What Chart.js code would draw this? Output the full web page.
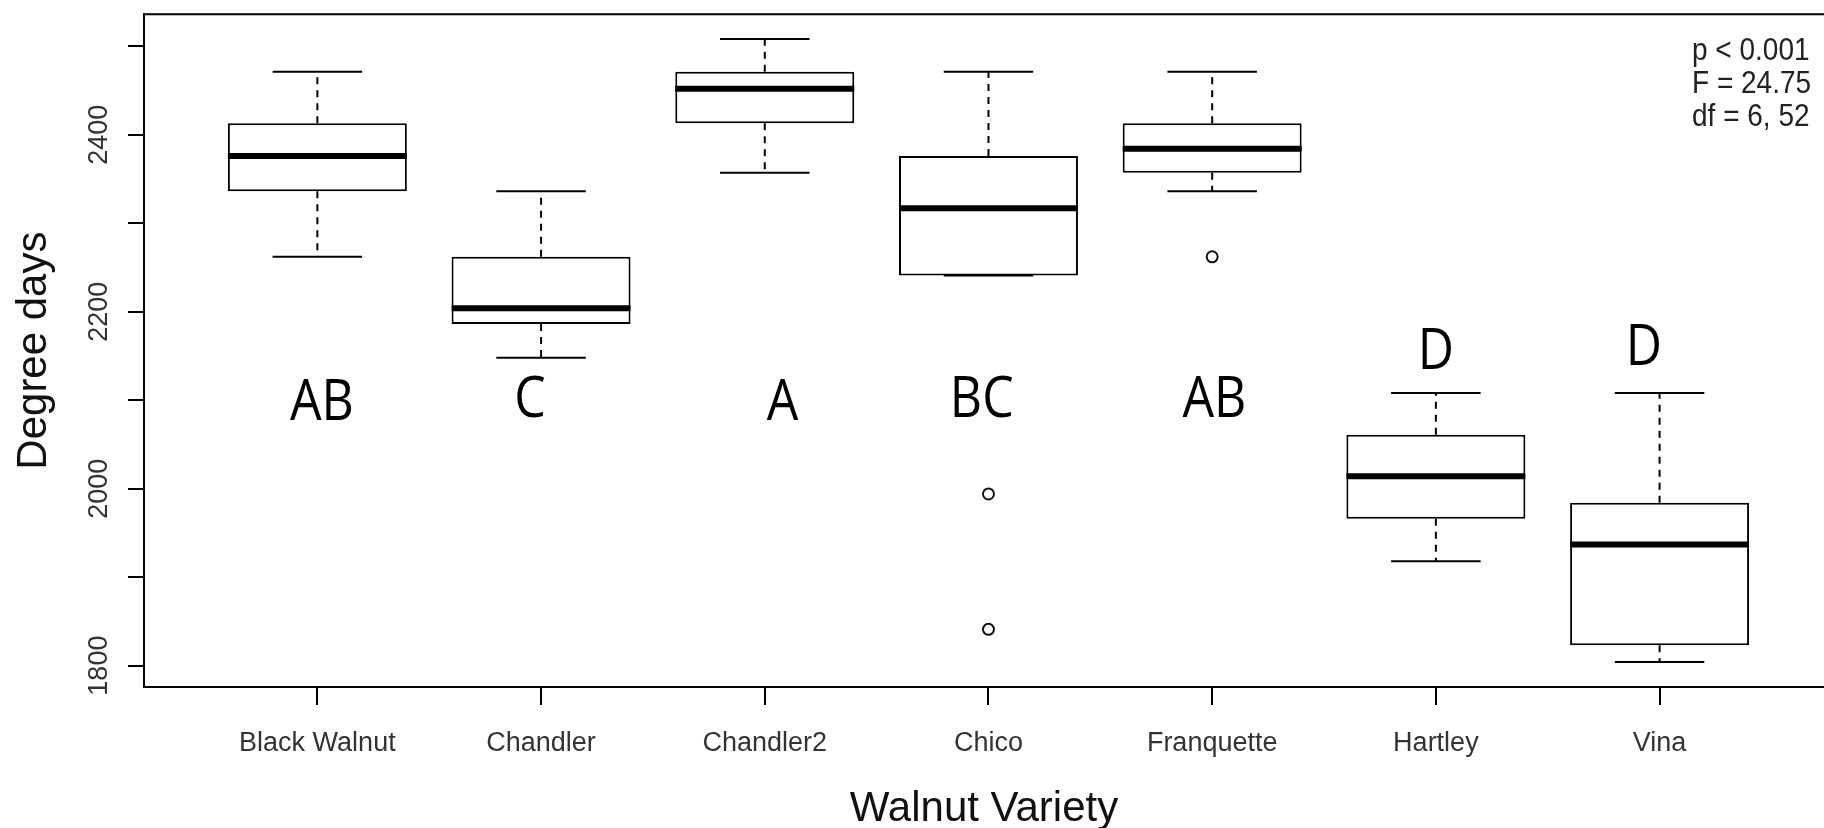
<!DOCTYPE html>
<html lang="en">
<head>
  <meta charset="UTF-8" />
  <title>Degree days by walnut variety</title>
  <script src="https://cdn.jsdelivr.net/npm/chart.js@4"></script>
  <style>
    html, body {
      margin: 0;
      padding: 0;
      background: #fff;
      overflow: hidden;
    }
    #wrap {
      width: 1824px;
      height: 828px;
    }
  </style>
</head>
<body>
  <div id="wrap"><canvas id="boxChart" width="1824" height="828"></canvas></div>

  <script>
    const varieties   = ['Black Walnut', 'Chandler', 'Chandler2', 'Chico', 'Franquette', 'Hartley', 'Vina'];
    const whiskerLow  = [2262, 2148, 2357, 2241, 2336, 1918, 1804];
    const lowerQuart  = [2336, 2186, 2413, 2241, 2357, 1966, 1823];
    const medians     = [2376, 2204, 2452, 2317, 2384, 2014, 1937];
    const upperQuart  = [2413, 2262, 2471, 2376, 2413, 2061, 1984];
    const whiskerHigh = [2471, 2336, 2508, 2471, 2471, 2108, 2108];

    // outliers: which variety (0-based) and value
    const outlierIdx  = [3, 3, 4];
    const outlierVals = [1994, 1841, 2262];

    // group letters from the post-hoc test, placed in data units
    const groupLetters = ['AB', 'C', 'A', 'BC', 'AB', 'D', 'D'];
    const letterX = [1.02, 1.95, 3.08, 3.97, 5.01, 6.0, 6.93];
    const letterY = [2100, 2104, 2100, 2104, 2104, 2158, 2162];

    const statsLines = ['p < 0.001', 'F = 24.75', 'df = 6, 52'];
    const yTicks = [1800, 1900, 2000, 2100, 2200, 2300, 2400, 2500];

    const FONT = '"Liberation Sans", Arial, sans-serif';

    // R style axis limits: data range plus 4%
    const lo = Math.min(...whiskerLow, ...outlierVals);
    const hi = Math.max(...whiskerHigh, ...outlierVals);
    const yMin = lo - 0.04 * (hi - lo);
    const yMax = hi + 0.04 * (hi - lo);
    const xMin = 0.225;
    const xMax = 7.735; // right edge of the plot is cut off in the figure

    const medianPts = [];
    const whiskerPts = [];
    const staplePts = [];
    varieties.forEach((v, i) => {
      const x = i + 1;
      medianPts.push({ x: x - 0.4, y: medians[i] }, { x: x + 0.4, y: medians[i] }, { x: x, y: null });
      whiskerPts.push(
        { x: x, y: upperQuart[i] }, { x: x, y: whiskerHigh[i] }, { x: x, y: null },
        { x: x, y: lowerQuart[i] }, { x: x, y: whiskerLow[i] }, { x: x, y: null }
      );
      staplePts.push(
        { x: x - 0.2, y: whiskerHigh[i] }, { x: x + 0.2, y: whiskerHigh[i] }, { x: x, y: null },
        { x: x - 0.2, y: whiskerLow[i] }, { x: x + 0.2, y: whiskerLow[i] }, { x: x, y: null }
      );
    });

    const annotate = {
      id: 'annotate',
      afterDatasetsDraw(chart) {
        const { ctx, chartArea: a, scales: { x, y } } = chart;
        ctx.save();

        // top of the plot frame
        ctx.strokeStyle = '#000';
        ctx.lineWidth = 2;
        ctx.beginPath();
        ctx.moveTo(a.left, a.top);
        ctx.lineTo(chart.width + 5, a.top);
        ctx.stroke();

        // letters, stretched a bit like the original figure
        ctx.fillStyle = '#000';
        ctx.font = '50px "Open Sans", sans-serif';
        ctx.textAlign = 'center';
        ctx.textBaseline = 'alphabetic';
        groupLetters.forEach((t, i) => {
          ctx.save();
          ctx.translate(x.getPixelForValue(letterX[i]), y.getPixelForValue(letterY[i]));
          ctx.scale(1, 1.13);
          ctx.fillText(t, 0, 50 * 0.714 / 2);
          ctx.restore();
        });

        ctx.fillStyle = '#222';
        ctx.font = '28px ' + FONT;
        ctx.textAlign = 'left';
        statsLines.forEach((t, i) => {
          ctx.save();
          ctx.translate(a.right - 132, a.top + 46 + i * 33);
          ctx.scale(1, 1.12);
          ctx.fillText(t, 0, 0);
          ctx.restore();
        });

        ctx.restore();
      }
    };

    new Chart(document.getElementById('boxChart'), {
      type: 'bar',
      data: {
        datasets: [
          {
            type: 'line',
            data: medianPts,
            borderColor: '#000',
            borderWidth: 6,
            borderCapStyle: 'butt',
            pointRadius: 0
          },
          {
            type: 'bar',
            data: varieties.map((v, i) => ({ x: i + 1, y: [lowerQuart[i], upperQuart[i]] })),
            backgroundColor: '#fff',
            borderColor: '#000',
            borderWidth: 2,
            borderSkipped: false,
            barPercentage: 0.8,
            categoryPercentage: 1,
            grouped: false
          },
          {
            type: 'line',
            data: staplePts,
            borderColor: '#000',
            borderWidth: 2,
            pointRadius: 0
          },
          {
            type: 'line',
            data: whiskerPts,
            borderColor: '#000',
            borderWidth: 2,
            borderDash: [7, 6],
            pointRadius: 0
          },
          {
            type: 'scatter',
            data: outlierIdx.map((k, i) => ({ x: k + 1, y: outlierVals[i] })),
            pointRadius: 5.5,
            pointBorderWidth: 2,
            pointBackgroundColor: 'rgba(0,0,0,0)',
            pointBorderColor: '#111',
            showLine: false
          }
        ]
      },
      options: {
        responsive: false,
        devicePixelRatio: 1,
        animation: false,
        layout: {
          autoPadding: false,
          padding: { top: 13, right: 0, bottom: 0, left: 0 }
        },
        plugins: {
          legend: { display: false },
          tooltip: { enabled: false }
        },
        scales: {
          x: {
            type: 'linear',
            min: xMin,
            max: xMax,
            offset: false,
            afterBuildTicks: (s) => { s.ticks = varieties.map((v, i) => ({ value: i + 1 })); },
            afterFit: (s) => { s.height = 828 - 687; },
            ticks: {
              autoSkip: false,
              minRotation: 0,
              maxRotation: 0,
              padding: 22,
              color: '#333',
              font: { family: FONT, size: 27 },
              callback: (v) => varieties[Math.round(v) - 1] || ''
            },
            grid: { drawOnChartArea: false, drawTicks: true, tickLength: 18, color: '#000', lineWidth: 2, offset: false },
            border: { display: true, color: '#000', width: 2 },
            title: {
              display: true,
              text: 'Walnut Variety',
              color: '#111',
              font: { family: FONT, size: 42, lineHeight: 1 },
              padding: { top: 0, bottom: -2 }
            }
          },
          y: {
            type: 'linear',
            min: yMin,
            max: yMax,
            afterBuildTicks: (s) => { s.ticks = yTicks.map((v) => ({ value: v })); },
            afterFit: (s) => { s.width = 144; },
            ticks: {
              autoSkip: false,
              minRotation: 90,
              maxRotation: 90,
              crossAlign: 'center',
              padding: -2,
              color: '#333',
              font: { family: FONT, size: 27 },
              callback: (v) => (v % 200 === 0 ? String(v) : '')
            },
            grid: { drawOnChartArea: false, drawTicks: true, tickLength: 16, color: '#000', lineWidth: 2 },
            border: { display: true, color: '#000', width: 2 },
            title: {
              display: true,
              text: 'Degree days',
              color: '#111',
              font: { family: FONT, size: 42, lineHeight: 1 },
              padding: { top: 13, bottom: 0 }
            }
          }
        }
      },
      plugins: [annotate]
    });
  </script>
</body>
</html>
